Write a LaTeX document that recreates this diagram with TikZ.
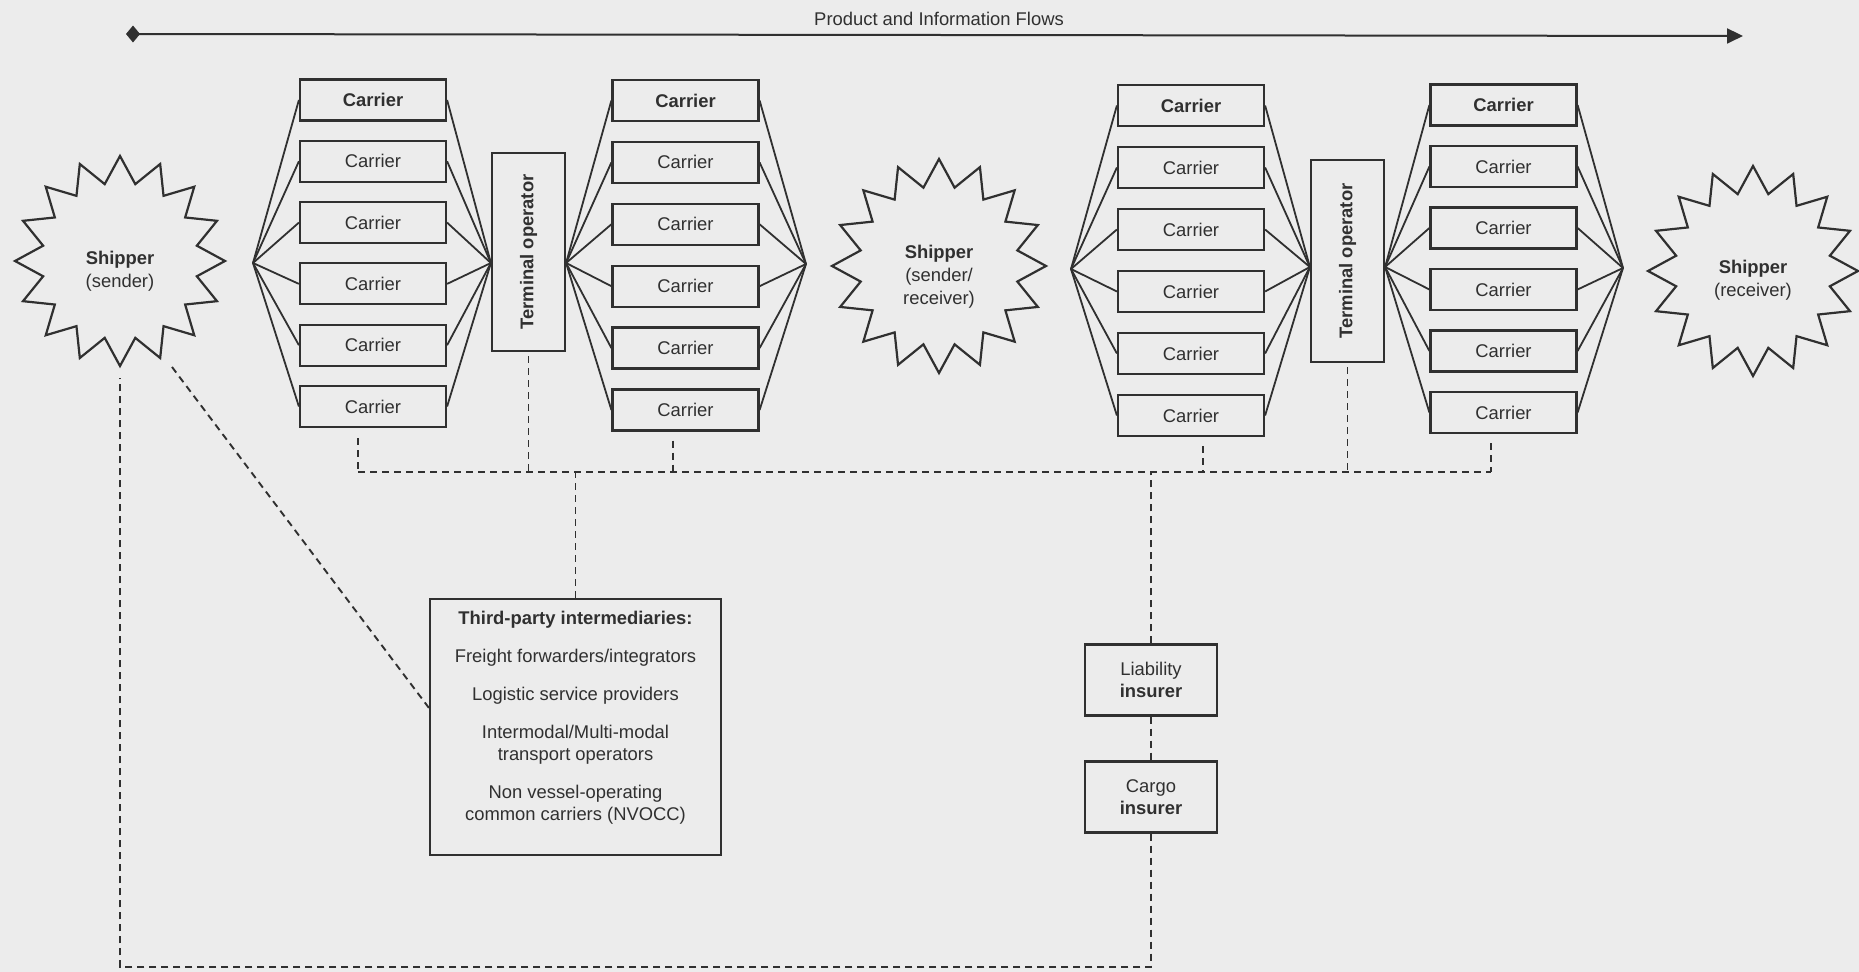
\documentclass[tikz,border=0pt]{standalone}
\usepackage{fontspec}
\usepackage{graphicx}
\setmainfont{Liberation Sans}
\usetikzlibrary{shapes.geometric,arrows.meta,calc}
\definecolor{ink}{HTML}{303030}
\definecolor{paper}{HTML}{ECECEC}
\begin{document}
\begin{tikzpicture}[x=0.5pt,y=-0.5pt,color=ink,
  font=\fontsize{9.2}{11}\selectfont,
  box/.style={draw, line width=1.1pt, inner sep=0pt, align=center},
  carrier/.style={box, minimum width=73pt, minimum height=20.5pt},
  termop/.style={box, minimum width=36.5pt, font=\fontsize{9.2}{11}\selectfont\bfseries},
  insurer/.style={box, minimum width=66pt, minimum height=35.5pt},
  shipper/.style={star, star points=16, star point ratio=1.34, draw, line width=1.1pt,
    inner sep=0pt, minimum size=105pt},
  shippertext/.style={align=center, font=\fontsize{9.2}{11.5}\selectfont},
  fan/.style={line width=0.9pt},
  link/.style={line width=0.95pt, dash pattern=on 3.5pt off 2.5pt},
]
% page
\fill[paper] (0,0) rectangle (1859,972);
\useasboundingbox (0,0) rectangle (1859,972);

% flow arrow
\coordinate (fl) at (126,34);
\coordinate (fr) at (1743,36);
\draw[line width=1pt, {Diamond[length=7pt,width=8.5pt]}-{Triangle[length=8pt,width=7.5pt]}] (fl) -- (fr);
\node (flow) at (939,19) {Product and Information Flows};

% shippers
\node[shipper] (s1) at (120,261) {};
\node[shippertext] (s1t) at (120,271) {\textbf{Shipper}\\(sender)};
\node[shipper, minimum size=107pt] (s2) at (939,266) {};
\node[shippertext] (s2t) at (939,277) {\textbf{Shipper}\\(sender/\\receiver)};
\node[shipper] (s3) at (1753,271) {};
\node[shippertext] (s3t) at (1753,280) {\textbf{Shipper}\\(receiver)};

% carrier columns
\foreach \col/\x/\y/\dy in {a/373/100/61.3, b/685.5/100.5/61.9, c/1191/105.5/62, d/1503.5/105/61.5} {
  \foreach \i in {1,...,6} {
    \node[carrier] (\col\i) at (\x,{\y+(\i-1)*\dy}) {\ifnum\i=1 \textbf{Carrier}\else Carrier\fi};
  }
}

% terminal operators
\node[termop, minimum height=99pt] (t1) at (528.5,252) {\rotatebox{90}{Terminal operator}};
\node[termop, minimum height=101pt] (t2) at (1347.5,261) {\rotatebox{90}{Terminal operator}};

% fan-in / fan-out points
\coordinate (h1) at (253,263);
\coordinate (t1w) at (t1.west |- h1);
\coordinate (t1e) at (t1.east |- h1);
\coordinate (h2) at (806,264);
\coordinate (h3) at (1071,269);
\coordinate (m2) at (0,267);
\coordinate (t2w) at (t2.west |- m2);
\coordinate (t2e) at (t2.east |- m2);
\coordinate (h4) at (1623,268);

\foreach \i in {1,...,6} {
  \draw[fan] (h1) -- (a\i.west);
  \draw[fan] (a\i.east) -- (t1w);
  \draw[fan] (t1e) -- (b\i.west);
  \draw[fan] (b\i.east) -- (h2);
  \draw[fan] (h3) -- (c\i.west);
  \draw[fan] (c\i.east) -- (t2w);
  \draw[fan] (t2e) -- (d\i.west);
  \draw[fan] (d\i.east) -- (h4);
}

% intermediaries and insurers
\node[box, minimum width=145.5pt, minimum height=128pt] (tp) at (575.5,727) {};
\node[align=center] (tptext) at (575.5,718) {\textbf{Third-party intermediaries:}\\[8pt]
  Freight forwarders/integrators\\[8pt]
  Logistic service providers\\[8pt]
  Intermodal/Multi-modal\\transport operators\\[8pt]
  Non vessel-operating\\common carriers (NVOCC)};
\node[insurer] (lia) at (1151,680) {Liability\\\textbf{insurer}};
\node[insurer] (cargo) at (1151,797) {Cargo\\\textbf{insurer}};

% dashed relations
\coordinate (busL) at (358,472);
\coordinate (busR) at (1491,472);
\coordinate (bd) at (673,472);
\coordinate (cd) at (1203,472);
\draw[link] (busL) -- (busR);
\draw[link] ($(busL |- a6.south)+(0,10)$) -- (busL);
\draw[link] ($(t1.south)+(0,4)$) -- (t1.south |- busL);
\draw[link] ($(bd |- b6.south)+(0,9)$) -- (bd);
\draw[link] ($(cd |- c6.south)+(0,9)$) -- (cd);
\draw[link] ($(t2.south)+(0,4)$) -- (t2.south |- busL);
\draw[link] ($(busR |- d6.south)+(0,9)$) -- (busR);
\draw[link] (tp.north) -- (tp.north |- busL);
\draw[link] (lia.north) -- (lia.north |- busL);
\draw[link] (lia.south) -- (cargo.north);
\coordinate (corner) at (s1.south |- 0,967);
\draw[link] (cargo.south) |- (corner) -- ($(s1.south)+(0,10)$);
\draw[link] ($(s1.center)+(52,106)$) -- ($(tp.north west)+(0,110)$);
\end{tikzpicture}
\end{document}
